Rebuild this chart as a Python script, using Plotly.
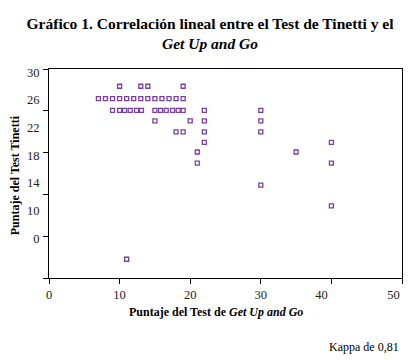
import plotly.graph_objects as go

# Puntaje Get Up and Go (x) vs Puntaje Tinetti (y)
get_up_go = [
    10, 13, 14, 19,
    7, 8, 9, 10, 11, 12, 13, 14, 15, 16, 17, 18, 19,
    9, 10, 10.7, 11.5, 12.4, 13.1, 15, 15.8, 16.6, 17.5, 18.3, 19, 22, 30,
    15, 20, 22, 30,
    18, 19, 22, 30,
    22, 40,
    21, 35,
    21, 40,
    30,
    40,
    11,
]
tinetti = [
    28, 28, 28, 28,
    26.2, 26.2, 26.2, 26.2, 26.2, 26.2, 26.2, 26.2, 26.2, 26.2, 26.2, 26.2, 26.2,
    24.5, 24.5, 24.5, 24.5, 24.5, 24.5, 24.5, 24.5, 24.5, 24.5, 24.5, 24.5, 24.5, 24.5,
    23, 23, 23, 23,
    21.4, 21.4, 21.4, 21.4,
    19.9, 19.9,
    18.5, 18.5,
    16.9, 16.9,
    13.7,
    10.7,
    3.0,
]

# x axis: tick marks and (slightly misplaced, as in the original) tick labels
x_mark_vals = [0, 10, 20, 30, 40, 50]
x_label_vals = [0, 10, 20, 30, 38.6, 48.8]
x_label_text = ["0", "10", "20", "30", "40", "50"]
# y axis: labels and tick marks as they appear in the original
y_label_vals = [30, 26, 22, 18, 14, 10, 6]
y_label_text = ["30", "26", "22", "18", "14", "10", "0"]
y_mark_vals = [30.49, 24.45, 18.41, 12.38, 6.33, 0.29]

SERIF = "Liberation Serif, Times New Roman, serif"
PURPLE = "#7B3FA0"

W, H = 404, 352  # page body has an 8px margin

fig = go.Figure()
fig.add_trace(go.Scatter(
    x=get_up_go, y=tinetti, mode="markers",
    marker=dict(symbol="square-open", size=4, color=PURPLE,
                line=dict(color=PURPLE, width=1.3)),
    showlegend=False, hoverinfo="x+y",
))
# invisible trace to activate the label axes
fig.add_trace(go.Scatter(x=[None], y=[None], xaxis="x2", yaxis="y2",
                         showlegend=False))

fig.update_layout(
    width=W, height=H,
    paper_bgcolor="white", plot_bgcolor="white",
    margin=dict(l=41.3, r=9.7, t=61.3, b=82.3, pad=0, autoexpand=False),
    font=dict(family=SERIF, color="black", size=12),
    title=dict(
        text="<b>Gráfico 1. Correlación lineal entre el Test de Tinetti y el</b><br><b><i>Get Up and Go</i></b>",
        x=0.5, xanchor="center", y=1 - 20.5 / H, yanchor="middle",
        font=dict(family=SERIF, size=15.5, color="black"),
        automargin=False,
    ),
    xaxis=dict(
        range=[0, 50], tickvals=x_mark_vals, ticks="outside", ticklen=5,
        tickcolor="black", showticklabels=False, showgrid=False, zeroline=False,
        automargin=False,
        showline=True, linecolor="black", linewidth=1, mirror=True,
    ),
    xaxis2=dict(
        range=[0, 50], overlaying="x", side="bottom", anchor="y",
        tickvals=x_label_vals, ticktext=x_label_text,
        ticks="outside", ticklen=5, tickcolor="rgba(0,0,0,0)",
        showgrid=False, zeroline=False, showline=False, automargin=False,
        ticklabeloverflow="allow",
        tickfont=dict(family=SERIF, size=12.5, color="#222"),
    ),
    yaxis=dict(
        range=[0.29, 30.49], tickvals=y_mark_vals, ticks="outside", ticklen=5,
        tickcolor="black", showticklabels=False, showgrid=False, zeroline=False,
        showline=True, linecolor="black", linewidth=1, mirror=True,
        automargin=False,
    ),
    yaxis2=dict(
        range=[0.29, 30.49], overlaying="y", side="left", anchor="x",
        tickvals=y_label_vals, ticktext=y_label_text,
        ticks="outside", ticklen=6, tickcolor="rgba(0,0,0,0)",
        showgrid=False, zeroline=False, showline=False, automargin=False,
        ticklabeloverflow="allow",
        tickfont=dict(family=SERIF, size=12.5, color="#222"),
    ),
    annotations=[
        dict(text="<b>Puntaje del Test de <i>Get Up and Go</i></b>",
             xref="paper", yref="paper", x=0.472, y=-0.1646,
             xanchor="center", yanchor="middle", showarrow=False,
             font=dict(family=SERIF, size=12, color="black")),
        dict(text="<b>Puntaje del Test Tinetti</b>",
             xref="paper", yref="paper", x=-0.0972, y=0.49,
             xanchor="center", yanchor="middle", textangle=-90, showarrow=False,
             font=dict(family=SERIF, size=12, color="black")),
        dict(text="Kappa de 0,81",
             xref="paper", yref="paper", x=0.996, y=-0.328,
             xanchor="right", yanchor="middle", showarrow=False,
             font=dict(family=SERIF, size=12, color="black")),
    ],
)

fig.write_html("out.html")
